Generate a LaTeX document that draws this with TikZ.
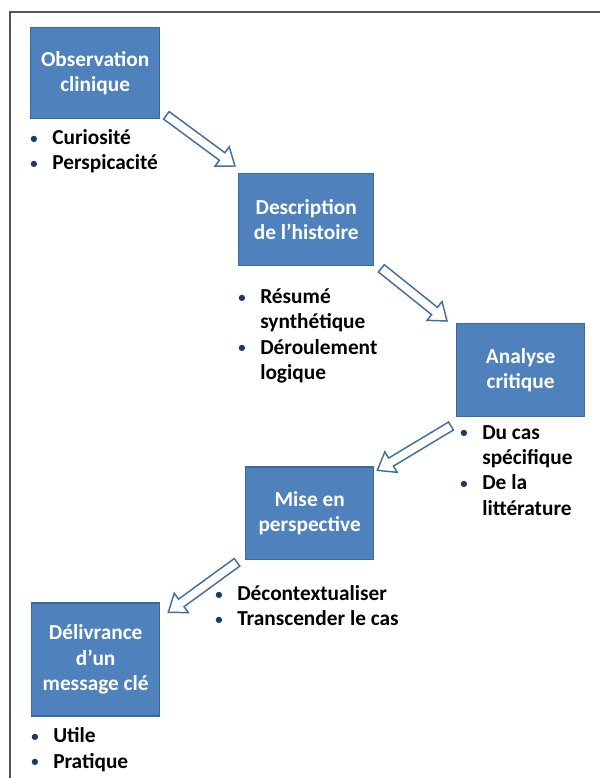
\documentclass[tikz,border=0pt]{standalone}
\usepackage{fontspec}
\setmainfont{Carlito}
\usetikzlibrary{calc, positioning}

\definecolor{boxblue}{HTML}{4F81BD}
\definecolor{boxedge}{HTML}{3B689D}
\definecolor{arrowedge}{HTML}{41709F}
\definecolor{dotblue}{HTML}{1F3A60}
\definecolor{framegray}{HTML}{555555}

% hollow block arrow from #1 (tail) to #2 (tip)
\newcommand{\blockarrow}[2]{%
  \coordinate (#1-h) at ($(#2)!12pt!(#1)$);
  \draw[hollow] ($(#1)!3.5pt!90:(#2)$) -- ($(#1-h)!3.5pt!90:(#2)$)
    -- ($(#1-h)!9pt!90:(#2)$) -- (#2) -- ($(#1-h)!9pt!-90:(#2)$)
    -- ($(#1-h)!3.5pt!-90:(#2)$) -- ($(#1)!3.5pt!-90:(#2)$) -- cycle;}
\newcommand{\bul}{\makebox[16.5pt][l]{\raisebox{1pt}{\fontsize{11}{11}\selectfont\textcolor{dotblue}{\textbullet}}}}

\begin{document}
\begin{tikzpicture}[x=0.75pt,y=-0.75pt]
\tikzstyle{step box}=[rectangle,draw=boxedge,line width=1pt,fill=boxblue,text=white,
  align=center,minimum width=96pt,minimum height=69.5pt,inner sep=2pt,
  font=\fontsize{16}{19}\selectfont\bfseries]
\tikzstyle{items}=[inner sep=0pt,font=\fontsize{16}{19}\selectfont\bfseries]
\tikzstyle{hollow}=[draw=arrowedge,line width=1.1pt,fill=white,line join=miter]

\useasboundingbox (0,0) rectangle (600,778);
\draw[framegray,line width=1.4pt] (600,12) -- (10,12) -- (10,778);

\node[step box, anchor=north west, minimum width=96.75pt, minimum height=68.25pt] (obs) at (30,27) {Observation\\clinique};
\node[step box, minimum width=101.25pt, minimum height=69pt] (desc) [below right=40.25pt and 58.25pt of obs] {Description\\de l’histoire};
\node[step box] (ana) [below right=42.5pt and 61.25pt of desc] {Analyse\\critique};
\node[step box] (mise) [below left=37pt and 61.25pt of ana] {Mise en\\perspective};
\node[step box, minimum height=84.75pt] (deliv) [below left=31.5pt and 63.5pt of mise] {Délivrance\\d’un\\message clé};

\node[items] (obs-list) [below right=5.25pt and 0pt of obs.south west]
  {\begin{tabular}{@{}l@{}l@{}}\bul & Curiosité\\ \bul & Perspicacité\end{tabular}};
\node[items] (desc-list) [below right=14.25pt and 0pt of desc.south west]
  {\begin{tabular}{@{}l@{}l@{}}\bul & Résumé\\ & synthétique\\ \bul & Déroulement\\ & logique\end{tabular}};
\node[items] (ana-list) [below right=3pt and 3pt of ana.south west]
  {\begin{tabular}{@{}l@{}l@{}}\bul & Du cas\\ & spécifique\\ \bul & De la\\ & littérature\end{tabular}};
\node[items] (mise-list) [below right=16.5pt and -22.5pt of mise.south west]
  {\begin{tabular}{@{}l@{}l@{}}\bul & Décontextualiser\\ \bul & Transcender le cas\end{tabular}};
\node[items] (deliv-list) [below right=6pt and 0pt of deliv.south west]
  {\begin{tabular}{@{}l@{}l@{}}\bul & Utile\\ \bul & Pratique\end{tabular}};

\coordinate (a1) at ($(obs.south east)+(6,-4)$);
\coordinate (b1) at ($(desc.north west)+(-3,-7)$);
\coordinate (a2) at ($(desc.south east)+(7,2)$);
\coordinate (b2) at ($(ana.north west)+(-9,-2)$);
\coordinate (a3) at ($(ana.south west)+(-5,9)$);
\coordinate (b3) at ($(mise.north east)+(3,4)$);
\coordinate (a4) at ($(mise.south west)+(-8,2)$);
\coordinate (b4) at ($(deliv.north east)+(8,10)$);

\blockarrow{a1}{b1}
\blockarrow{a2}{b2}
\blockarrow{a3}{b3}
\blockarrow{a4}{b4}
\end{tikzpicture}
\end{document}
